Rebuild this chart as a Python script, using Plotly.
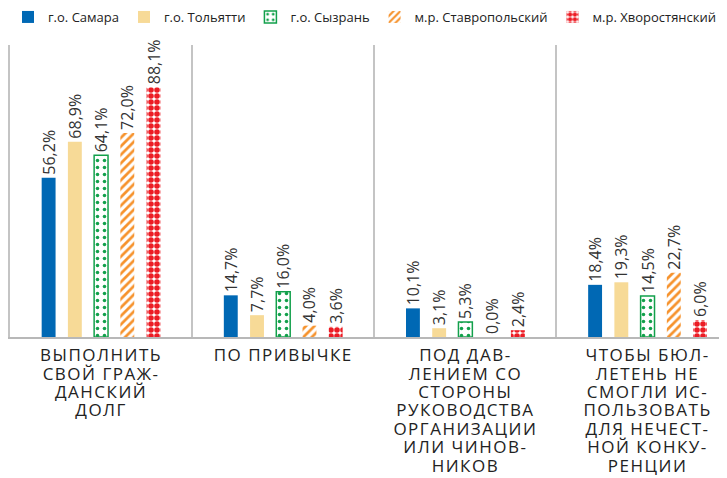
import plotly.graph_objects as go

# ---- data ----
category_lines = [
    ["ВЫПОЛНИТЬ", "СВОЙ ГРАЖ-", "ДАНСКИЙ", "ДОЛГ"],
    ["ПО ПРИВЫЧКЕ"],
    ["ПОД ДАВ-", "ЛЕНИЕМ СО", "СТОРОНЫ", "РУКОВОДСТВА", "ОРГАНИЗАЦИИ", "ИЛИ ЧИНОВ-", "НИКОВ"],
    ["ЧТОБЫ БЮЛ-", "ЛЕТЕНЬ НЕ", "СМОГЛИ ИС-", "ПОЛЬЗОВАТЬ", "ДЛЯ НЕЧЕСТ-", "НОЙ КОНКУ-", "РЕНЦИИ"],
]
series_names = ["г.о. Самара", "г.о. Тольятти", "г.о. Сызрань", "м.р. Ставропольский", "м.р. Хворостянский"]
samara = [56.2, 14.7, 10.1, 18.4]
tolyatti = [68.9, 7.7, 3.1, 19.3]
syzran = [64.1, 16.0, 5.3, 14.5]
stavropol = [72.0, 4.0, 0.0, 22.7]
khvorostyanka = [88.1, 3.6, 2.4, 6.0]

# ---- styles ----
colors = ["#0068b4", "#f7da97", "#12a04b", "#f6922c", "#ec1c24"]
FONT = "Open Sans, Noto Sans, sans-serif"


def label(lines):
    return "<br>".join(
        "<span style='font-size:17px;letter-spacing:1.5px'>" + ln + "</span>" for ln in lines
    )


cats = [label(c) for c in category_lines]
series_values = [samara, tolyatti, syzran, stavropol, khvorostyanka]

markers = [
    dict(color=colors[0], line=dict(width=0)),
    dict(color=colors[1], line=dict(width=0)),
    dict(color="white",
         pattern=dict(shape=".", fgcolor=colors[2], bgcolor="white", size=7, solidity=0.2,
                      fillmode="replace"),
         line=dict(color=colors[2], width=1.5)),
    dict(color="white",
         pattern=dict(shape="/", fgcolor=colors[3], bgcolor="white", size=6, solidity=0.45,
                      fillmode="replace"),
         line=dict(width=0)),
    dict(color="white",
         pattern=dict(shape=".", fgcolor=colors[4], bgcolor="white", size=6, solidity=0.68,
                      fillmode="replace"),
         line=dict(width=0)),
]

fig = go.Figure()
for name, vals, mk in zip(series_names, series_values, markers):
    fig.add_trace(go.Bar(
        name=name, x=cats, y=vals, marker=mk,
        texttemplate="%{y:.1f}%", textposition="outside", textangle=-90,
        constraintext="none", cliponaxis=False,
        textfont=dict(family=FONT, size=16, color="#333333"),
    ))

fig.update_layout(
    width=727, height=478,
    margin=dict(l=2, r=0, t=37, b=149, autoexpand=False),
    paper_bgcolor="white", plot_bgcolor="white",
    barmode="group", bargap=0.28, bargroupgap=0.47,
    separators=", ",
    font=dict(family=FONT, color="#222222"),
    legend=dict(orientation="h", xref="container", yref="container",
                x=-0.006, y=1 - 9 / 478, xanchor="left", yanchor="middle",
                font=dict(family=FONT, size=13, color="#222222"),
                itemwidth=30, traceorder="normal"),
    xaxis=dict(type="category", range=[-0.5, 3.48], tickson="boundaries",
               showgrid=True, gridcolor="#c4c4c4", gridwidth=1.5,
               showline=True, linecolor="#b8b8b8", linewidth=2,
               ticks="", ticklen=0, tickfont=dict(family=FONT, size=14.2, color="#222222"),
               ticklabelstandoff=5, automargin=False, fixedrange=True),
    yaxis=dict(range=[0, 103], showgrid=False, zeroline=False, showticklabels=False,
               showline=True, linecolor="#c4c4c4", linewidth=1.5, ticks="",
               automargin=False, fixedrange=True),
)

fig.write_html("out.html")
